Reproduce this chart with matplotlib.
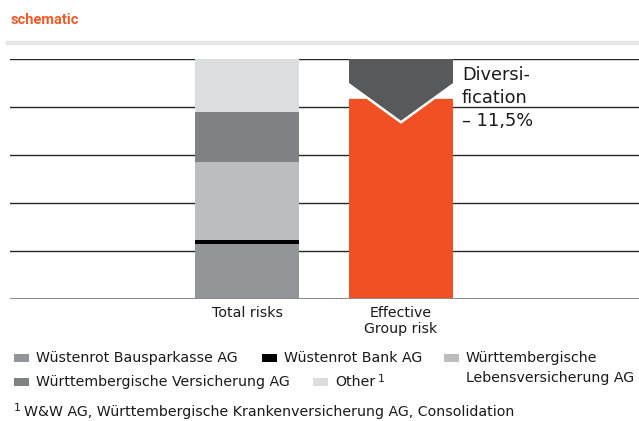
import matplotlib
matplotlib.use("Agg")
import matplotlib.pyplot as plt
from matplotlib.patches import Rectangle, Polygon
from matplotlib.lines import Line2D

plt.rcParams['font.family'] = ['DejaVu Sans']

# data (schematic units, gridline every 1.0)
categories = ["Total risks", "Effective\nGroup risk"]
segment_names = ["Wüstenrot Bausparkasse AG", "Wüstenrot Bank AG",
                 "Württembergische\nLebensversicherung AG",
                 "Württembergische Versicherung AG", "Other"]
segment_values = [1.146, 0.083, 1.625, 1.042, 1.104]
segment_colors = ["#939598", "#000000", "#bcbdbf", "#808184", "#dcdddf"]
effective_risk = 4.17       # orange bar height at its edges
notch_depth = 0.52          # depth of the V cut into the orange bar
diversification_label = ["Diversi-", "fication", "– 11,5%"]

ORANGE = "#f05023"
DARK = "#58595b"
TXT = "#1a1a1a"
FS = 10.2
W, H = 639, 421

fig = plt.figure(figsize=(W / 100, H / 100), dpi=100)
ax = fig.add_axes([10 / W, (H - 299) / H, 629 / W, 240 / H])

x_total, x_eff = 0, 1
bw = 104 / 154
ax.set_xlim(-237 / 154, 1 + 238 / 154)
ax.set_ylim(0, 5)
ax.axis("off")

# gridlines
for g in range(1, 6):
    ax.axhline(g, color="#262626", lw=1.0, zorder=1)
ax.axhline(0, color="#8c8c8c", lw=2.2, zorder=3)

# stacked total risks
bottom = 0
for v, c in zip(segment_values, segment_colors):
    ax.bar(x_total, v, width=bw, bottom=bottom, color=c, zorder=2, linewidth=0)
    bottom += v
total = bottom

# effective group risk with V notch
x0, x1 = x_eff - bw / 2, x_eff + bw / 2
gray_edge = total - 0.5
gray_tip = effective_risk - notch_depth + 0.065
slope = (gray_edge - gray_tip) / (bw / 2)
notch_bottom = effective_risk - notch_depth
dx = notch_depth / slope
orange = Polygon([(x0, 0), (x1, 0), (x1, effective_risk), (x_eff + dx, effective_risk),
                  (x_eff, notch_bottom), (x_eff - dx, effective_risk), (x0, effective_risk)],
                 closed=True, facecolor=ORANGE, edgecolor="none", zorder=2)
gray = Polygon([(x0, total), (x1, total), (x1, gray_edge), (x_eff, gray_tip), (x0, gray_edge)],
               closed=True, facecolor=DARK, edgecolor="none", zorder=2)
# white background behind the diversification area to hide gridline
ax.add_patch(Rectangle((x0, notch_bottom), bw, total - notch_bottom, facecolor="white",
                       edgecolor="none", zorder=1.5))
ax.add_patch(orange)
ax.add_patch(gray)

# diversification label, one line every 23 px
for i, line in enumerate(diversification_label):
    fig.text(462 / W, 1 - (75 + 23 * i) / H, line, fontsize=12.8, va="center", ha="left",
             color=TXT, zorder=4)

# category labels
for xp, lab in zip([x_total, x_eff], categories):
    ax.text(xp, -0.15, lab, ha="center", va="top", fontsize=FS, linespacing=1.15,
            color=TXT)

# title and band
fig.text(11 / W, 1 - 20 / H, "schematic", color="#f05a28", fontsize=10.5,
         fontweight="bold", family="Roboto", va="center", ha="left")
fig.add_artist(Line2D([8 / W, 638 / W], [1 - 43 / H, 1 - 43 / H], color="#e6e6e6", lw=3.2))

# legend (manual layout)
legend_pos = [(14, 358), (262, 358), (444, 358), (14, 382), (313, 382)]
for (px, py), name, c in zip(legend_pos, segment_names, segment_colors):
    fig.add_artist(Rectangle((px / W, 1 - (py + 4) / H), 15 / W, 8 / H, facecolor=c,
                             edgecolor="none", transform=fig.transFigure))
    if name == "Other":
        fig.text((px + 22) / W, 1 - py / H, "Other", fontsize=FS, va="center", ha="left",
                 color=TXT)
        fig.text((px + 65) / W, 1 - (py - 3) / H, "1", fontsize=7.8, va="center", ha="left",
                 color=TXT)
    else:
        for j, part in enumerate(name.split("\n")):
            fig.text((px + 22) / W, 1 - (py + 20 * j) / H, part, fontsize=FS, va="center",
                     ha="left", color=TXT)

fig.text(14 / W, 1 - 408 / H, "1", fontsize=7.8, va="center", ha="left", color=TXT)
fig.text(24 / W, 1 - 412 / H, "W&W AG, Württembergische Krankenversicherung AG, Consolidation",
         fontsize=FS, va="center", ha="left", color=TXT)

fig.savefig("out.png", dpi=100)
